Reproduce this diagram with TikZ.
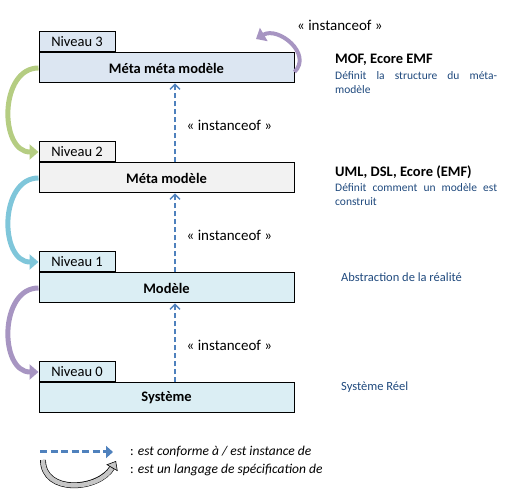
\documentclass[tikz,border=0pt]{standalone}
\usepackage{fontspec}
\setmainfont{Carlito}
\usepackage{xcolor}
\usepackage{tikz}
\usetikzlibrary{arrows.meta}

\definecolor{lvlBlue}{HTML}{DCE6F2}
\definecolor{lvlGray}{HTML}{F2F2F2}
\definecolor{lvlCyan}{HTML}{DBEEF4}
\definecolor{descBlue}{HTML}{1F497D}
\definecolor{instBlue}{HTML}{4F81BD}
\definecolor{arrGreen}{HTML}{B5CD82}
\definecolor{arrCyan}{HTML}{7FC6DA}
\definecolor{arrPurple}{HTML}{A795C2}

\tikzset{
  levelbox/.style={draw, line width=1pt, minimum width=255pt, minimum height=30pt,
    inner sep=0pt, font=\fontsize{14.5}{17}\selectfont\bfseries},
  tabbox/.style={draw, line width=1pt, minimum width=76pt, minimum height=20pt,
    inner sep=0pt, anchor=south west, font=\fontsize{14.5}{17}\selectfont},
  instarrow/.style={instBlue, line width=1.4pt, dash pattern=on 5pt off 3pt,
    -{Straight Barb[length=5pt,width=10pt]}},
  instlabel/.style={text=black, font=\fontsize{15}{17}\selectfont, inner sep=0pt},
  specarrow/.style={line width=5pt, -{Triangle[length=9pt,width=15pt]}},
  headtext/.style={anchor=west, inner sep=0pt, font=\fontsize{14.5}{17}\selectfont\bfseries},
  desctext/.style={anchor=north west, inner sep=0pt, text=descBlue, text width=162pt,
    align=justify, font=\fontsize{11.5}{14}\selectfont},
  notetext/.style={anchor=west, inner sep=0pt, text=descBlue, font=\fontsize{12.5}{14}\selectfont},
  legendtext/.style={anchor=west, inner sep=0pt, font=\fontsize{13.5}{15}\selectfont}
}

\begin{document}
\begin{tikzpicture}[x=1pt, y=1pt]
\useasboundingbox (0,0) rectangle (513,497);

% levels
\foreach \n/\title/\col in {3/Méta méta modèle/lvlBlue, 2/Méta modèle/lvlGray,
                            1/Modèle/lvlCyan, 0/Système/lvlCyan} {
    \node[levelbox, fill=\col] (box\n) at (166.5, {99+110*\n}) {\title};
    \node[tabbox, fill=\col] (tab\n) at (box\n.north west) {Niveau \n};
}

% instanceof arrows
\foreach \n/\m in {0/1, 1/2, 2/3} {
    \draw[instarrow] ([xshift=8.5pt]box\n.north) -- ([xshift=8.5pt]box\m.south)
        node[instlabel, pos=0.47, anchor=west, xshift=11pt] {« instanceof »};
}

% specification arrows
\draw[specarrow, arrGreen] (box3.west) to[out=180, in=180, looseness=1.2] (tab2.west);
\draw[specarrow, arrCyan] (box2.west) to[out=180, in=180, looseness=1.2] (tab1.west);
\draw[specarrow, arrPurple] (box1.west) to[out=180, in=180, looseness=1.2] (tab0.west);

% self loop on top level
\coordinate (loopTip) at (256,458);
\draw[specarrow, arrPurple, line width=4pt] ([yshift=-4pt]box3.east)
    to[out=45, in=30, looseness=1.3] (loopTip);
\node[instlabel, anchor=west] (loopLabel) at (297,472) {« instanceof »};

% descriptions
\node[headtext] (mofHead) at (335,437) {MOF, Ecore EMF};
\node[desctext] (mofDesc) at (335,426) {Définit la structure du méta-\linebreak modèle};
\node[headtext] (umlHead) at (335,325) {UML, DSL, Ecore (EMF)};
\node[desctext] (umlDesc) at (335,314) {Définit comment un modèle est\linebreak construit};
\node[notetext] (modNote) at (341,220) {Abstraction de la réalité};
\node[notetext] (sysNote) at (341,110) {Système Réel};

% legend
\coordinate (legStart) at (40,45);
\coordinate (legEnd) at (113,45);
\draw[instBlue, line width=3pt, dash pattern=on 7pt off 3.5pt,
      -{Triangle[length=7pt,width=12pt]}] (legStart) -- (legEnd);
\coordinate (specStart) at (43,37);
\coordinate (specEnd) at (116,36);
\draw[gray!45, line width=4.5pt,
      -{Triangle[length=8pt,width=13pt,fill=gray!45,color=black,line width=0.6pt]},
      preaction={draw=black, line width=5.8pt, -, shorten >=7pt}]
    (specStart) to[out=-90, in=240, looseness=1.2] (specEnd);
\node[legendtext] (legInst) at (130,45) {: \textit{est conforme à / est instance de}};
\node[legendtext] (legSpec) at (130,27) {: \textit{est un langage de spécification de}};
\end{tikzpicture}
\end{document}
